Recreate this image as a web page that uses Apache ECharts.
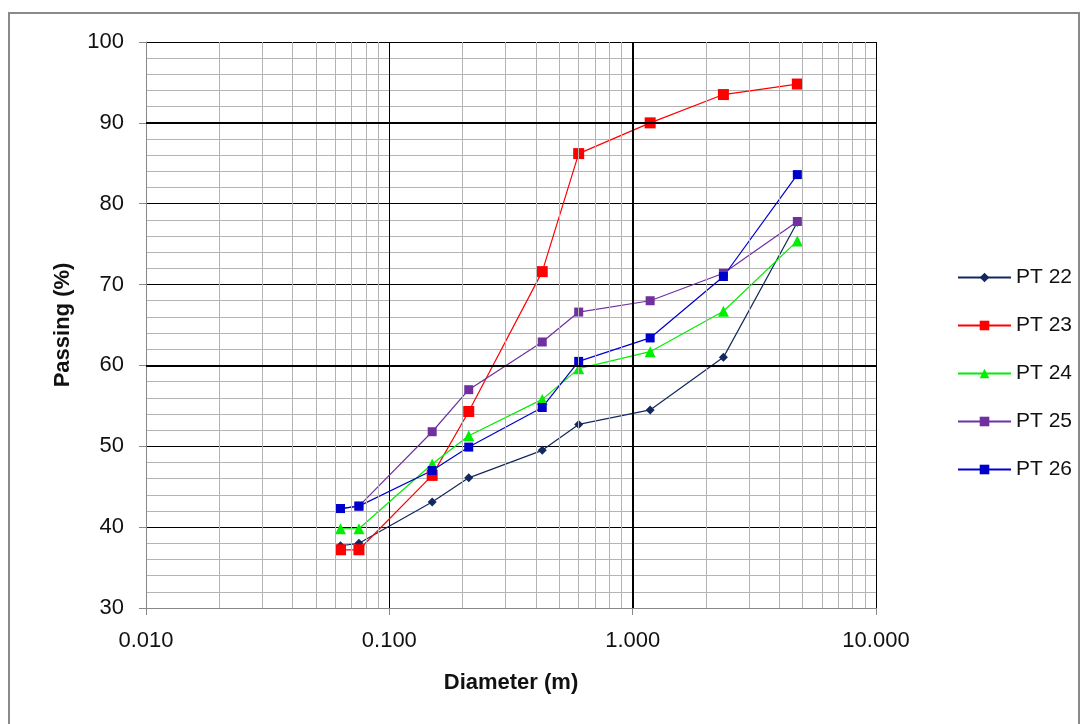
<!DOCTYPE html>
<html>
<head>
<meta charset="utf-8">
<title>Passing vs Diameter</title>
<script src="https://cdn.jsdelivr.net/npm/echarts@6/dist/echarts.min.js"></script>
<style>
    html, body { margin: 0; padding: 0; background: #fff; }
    #chart { width: 1085px; height: 724px; }
</style>
</head>
<body>
<div id="chart"></div>
<script>
// 粒径（横轴，对数）
const diameters = [0.063, 0.075, 0.15, 0.212, 0.425, 0.6, 1.18, 2.36, 4.75];
// 各测点通过率
const pt22 = [37.7, 38.0, 43.1, 46.1, 49.5, 52.7, 54.5, 61.0, 77.7];
const pt23 = [37.2, 37.2, 46.4, 54.3, 71.6, 86.2, 90.0, 93.5, 94.8];
const pt24 = [39.8, 39.8, 47.8, 51.3, 55.8, 59.6, 61.7, 66.7, 75.4];
const pt25 = [42.3, 42.6, 51.8, 57.0, 62.9, 66.6, 68.0, 71.4, 77.8];
const pt26 = [42.3, 42.6, 47.0, 49.9, 54.8, 60.5, 63.4, 71.0, 83.6];
// 次网格线位置（2..9 × 每个十进位）
const minorTicksX = [0.02, 0.03, 0.04, 0.05, 0.06, 0.07, 0.08, 0.09,
    0.2, 0.3, 0.4, 0.5, 0.6, 0.7, 0.8, 0.9,
    2, 3, 4, 5, 6, 7, 8, 9];
const xTickLabels = { 0.01: "0.010", 0.1: "0.100", 1: "1.000", 10: "10.000" };

(function () {
    const my_echart = echarts.init(document.getElementById("chart"));
    const font = "Liberation Sans";
    const pair = function (ys) { //组合成[x, y]
        return diameters.map(function (d, i) { return [d, ys[i]]; });
    };
    const makeSeries = function (name, ys, color, symbol, size) {
        return {
            name: name,
            type: "line",
            data: pair(ys),
            symbol: symbol,
            symbolSize: size,
            z: 3,
            lineStyle: { color: color, width: 1.2 },
            itemStyle: { color: color },
            emphasis: { disabled: true }
        };
    };
    let option = {
        animation: false,
        textStyle: { fontFamily: font },
        graphic: [{
            type: "rect",
            shape: { x: 9, y: 13, width: 1070, height: 760 },
            style: { fill: "none", stroke: "#8a8a8a", lineWidth: 2 },
            z: -1
        }],
        grid: { left: 146, right: 209, top: 42, bottom: 116 },
        legend: {
            orient: "vertical",
            left: 952,
            top: 262,
            itemWidth: 53,
            itemHeight: 12,
            itemGap: 27,
            textStyle: { fontSize: 21, color: "#111", fontFamily: font },
            data: ["PT 22", "PT 23", "PT 24", "PT 25", "PT 26"]
        },
        xAxis: {
            type: "log",
            logBase: 10,
            min: 0.01,
            max: 10,
            interval: 1,
            name: "Diameter (m)",
            nameLocation: "middle",
            nameGap: 64,
            nameTextStyle: { fontSize: 22, fontWeight: "bold", color: "#111" },
            axisLine: { show: true, onZero: false, lineStyle: { color: "#888", width: 1 } },
            axisTick: { show: true, length: 7, lineStyle: { color: "#888" } },
            axisLabel: {
                fontSize: 22, color: "#111", margin: 22,
                formatter: function (v) { return xTickLabels[v] || ""; }
            },
            splitLine: { show: true, lineStyle: { color: "#000", width: 1 } }
        },
        yAxis: {
            type: "value",
            min: 30,
            max: 100,
            interval: 10,
            name: "Passing (%)",
            nameLocation: "middle",
            nameGap: 72,
            nameTextStyle: { fontSize: 22, fontWeight: "bold", color: "#111" },
            axisLine: { show: true, lineStyle: { color: "#888", width: 1 } },
            axisTick: { show: true, length: 7, lineStyle: { color: "#888" } },
            axisLabel: { fontSize: 22, color: "#111", margin: 22 },
            splitLine: { show: true, lineStyle: { color: "#000", width: 1 } },
            minorTick: { show: false, splitNumber: 5 },
            minorSplitLine: { show: true, lineStyle: { color: "#b4b4b4", width: 1 } }
        },
        series: [
            { //次网格线
                name: "grid",
                type: "line",
                data: [[1, 30]],
                showSymbol: false,
                silent: true,
                z: 1,
                lineStyle: { opacity: 0 },
                markLine: {
                    silent: true,
                    symbol: "none",
                    label: { show: false },
                    animation: false,
                    lineStyle: { color: "#b4b4b4", width: 1, type: "solid" },
                    data: minorTicksX.map(function (v) { return { xAxis: v }; })
                        .concat([
                            { xAxis: 1, lineStyle: { color: "#000", width: 2, type: "solid" } },
                            { yAxis: 90, lineStyle: { color: "#000", width: 2, type: "solid" } },
                            { yAxis: 60, lineStyle: { color: "#000", width: 2, type: "solid" } }
                        ])
                }
            },
            makeSeries("PT 22", pt22, "#13285e", "diamond", 9),
            makeSeries("PT 23", pt23, "#ff0000", "rect", 11),
            makeSeries("PT 24", pt24, "#00ee00", "triangle", 11),
            makeSeries("PT 25", pt25, "#7030a0", "rect", 9),
            makeSeries("PT 26", pt26, "#0000cc", "rect", 9)
        ]
    }; //配置项
    my_echart.setOption(option);
})();
</script>
</body>
</html>
